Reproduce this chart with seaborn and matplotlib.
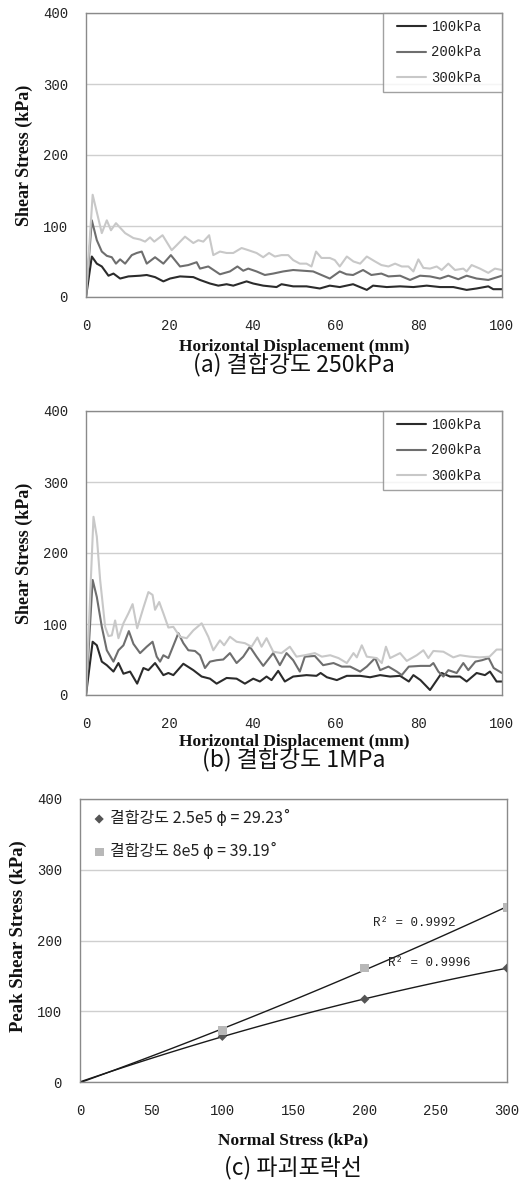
import numpy as np
import pandas as pd
import matplotlib
matplotlib.use("Agg")
import matplotlib.pyplot as plt
import seaborn as sns
from matplotlib.legend_handler import HandlerLine2D
from matplotlib.lines import Line2D

# ---------------- data ----------------
# (a) bond strength 250 kPa : shear stress vs horizontal displacement
a_x_100 = [0, 1.4, 2.6, 3.8, 5.4, 6.6, 8.2, 10.2, 13, 14.6, 16.6, 18.6, 20.2, 22.6, 25.8, 27.4, 29.8,
           31.8, 33.8, 35.4, 38.6, 40.2, 42.6, 45.8, 47, 49.8, 53, 56.2, 58.6, 61, 64.2, 67.5, 69,
           72.3, 75.5, 78.7, 81.9, 85.1, 88.3, 91.5, 93.9, 96.7, 97.9, 100]
a_y_100 = [0, 57, 47, 43, 30, 33, 26, 29, 30, 31, 28, 22, 26, 29, 28, 24, 19,
           16, 18, 16, 22, 19, 16, 14, 18, 15, 15, 12, 16, 14, 18, 10, 16,
           14, 15, 14, 16, 14, 14, 10, 12, 15, 11, 11]
a_x_200 = [0, 1.4, 2.6, 3.8, 5, 6.2, 7.2, 8.2, 9.4, 11, 12.2, 13.4, 14.6, 16.6, 18.6, 20.4, 22.6,
           24.6, 26.6, 27.4, 29.4, 32.2, 34.6, 36.4, 37.8, 39, 41, 43, 45, 47.4, 49.8, 52.2, 54.6,
           56.6, 58.6, 61, 62.6, 64.2, 66.6, 68.6, 71, 72.7, 75.5, 77.9, 80.3, 82.7, 85.1, 87.1,
           89.5, 91.5, 93.9, 96.7, 100]
a_y_200 = [0, 108, 80, 64, 58, 56, 47, 53, 47, 59, 62, 64, 47, 56, 47, 59, 43,
           45, 49, 40, 43, 32, 36, 43, 37, 40, 36, 31, 33, 36, 38, 37, 36,
           31, 26, 36, 32, 31, 38, 31, 33, 29, 30, 24, 30, 29, 26, 30,
           25, 30, 26, 24, 30]
a_x_300 = [0, 1.6, 3.8, 5, 6, 7.2, 9.4, 11.4, 13, 14.2, 15.4, 16.4, 18.4, 20.6, 21.8, 23.8, 25.8,
           27, 28.2, 29.6, 30.6, 32.2, 33.8, 35.4, 37.4, 39, 41, 42.6, 44, 45.4, 47, 48.6, 49.8,
           51.4, 53, 54.2, 55.3, 56.6, 58.6, 59.8, 61, 62.7, 64.3, 65.9, 67.5, 69.5, 71, 72.7,
           74.3, 75.9, 77.5, 78.7, 79.9, 81.1, 82.7, 84.3, 85.5, 87.1, 88.7, 90.7, 91.5, 92.7,
           94.7, 96.7, 98.3, 100]
a_y_300 = [0, 144, 90, 108, 94, 104, 90, 83, 81, 78, 84, 78, 87, 66, 73, 85, 76,
           80, 78, 87, 59, 64, 62, 62, 69, 66, 62, 56, 62, 57, 59, 59, 52,
           47, 47, 43, 64, 55, 55, 52, 43, 57, 50, 47, 57, 50, 45, 43,
           47, 43, 43, 36, 53, 41, 40, 43, 38, 47, 38, 40, 36, 45,
           40, 34, 40, 38]

# (b) bond strength 1 MPa
b_x_100 = [0, 1.6, 2.6, 3.8, 5, 6.6, 7.8, 9, 10.6, 12.3, 13.8, 15, 16.6, 18.6, 19.8, 21, 23.4,
           25.8, 27.8, 29.8, 31.4, 33.8, 36.2, 38.2, 40.2, 41.8, 43.4, 44.6, 46.2, 47.8, 49.8,
           53, 55.4, 56.4, 57.9, 60.3, 62.7, 65.9, 68.3, 70.7, 73.1, 75.5, 77.6, 78.7, 80.4,
           82.7, 85.5, 87.5, 89.9, 91.5, 93.9, 95.9, 97.1, 98.7, 100]
b_y_100 = [0, 75, 70, 47, 42, 33, 45, 30, 33, 16, 38, 35, 45, 28, 31, 28, 44,
           35, 26, 23, 16, 24, 23, 16, 23, 19, 26, 21, 34, 19, 26,
           28, 27, 31, 25, 21, 27, 27, 25, 28, 26, 27, 19, 28, 21,
           7, 31, 26, 26, 19, 31, 28, 33, 19, 19]
b_x_200 = [0, 1.6, 2.6, 3.8, 5, 6.6, 7.8, 9, 10.3, 11.4, 13, 14.6, 16, 17, 17.8, 18.6, 19.8,
           22.2, 23.4, 24.6, 26.2, 27.4, 28.6, 29.8, 31.4, 33, 34.6, 36.2, 37.8, 39.4, 41, 42.6,
           45, 46.6, 48.2, 49.8, 51.4, 52.6, 55, 57, 59.5, 61.5, 63.5, 65.9, 67.5, 69.5, 70.7,
           72.7, 74.7, 75.9, 77.6, 80.4, 82.7, 83.5, 84.7, 85.9, 87.1, 89.1, 90.7, 91.9, 93.6,
           95.2, 96.8, 98, 100]
b_y_200 = [0, 162, 138, 96, 63, 47, 63, 70, 90, 72, 59, 68, 75, 54, 47, 56, 52,
           87, 73, 63, 62, 56, 38, 47, 49, 50, 59, 45, 54, 68, 54, 41,
           59, 42, 59, 49, 33, 54, 55, 42, 45, 40, 40, 33, 40, 52, 35,
           40, 33, 28, 40, 41, 41, 45, 33, 26, 35, 31, 45, 35, 47,
           49, 52, 38, 31]
b_x_300 = [0, 1.8, 2.6, 3.4, 4.6, 5.4, 6.2, 7, 7.8, 9, 10.2, 11.2, 12.3, 13.8, 15, 16, 16.6,
           17.6, 18.6, 19.8, 21, 22.6, 24.2, 25.8, 27.8, 29.4, 30.6, 32.2, 33.2, 34.6, 36.2,
           38.2, 39.8, 41.2, 42.2, 43.4, 45, 47, 49, 50.6, 52.6, 55, 56.7, 58.7, 60.7, 62.7,
           64.3, 65.1, 66.3, 67.5, 69.9, 71.1, 72.1, 73.1, 75.5, 77.1, 79.5, 81.1, 82.3, 83.5,
           85.9, 88.3, 89.9, 92.3, 94.6, 97, 98.7, 100]
b_y_300 = [0, 251, 223, 162, 96, 83, 84, 105, 80, 101, 115, 128, 94, 123, 145, 141, 120,
           131, 115, 95, 96, 82, 80, 91, 101, 82, 63, 77, 70, 82, 75,
           73, 68, 81, 68, 80, 61, 59, 68, 54, 56, 59, 54, 56, 52, 45,
           59, 53, 70, 54, 52, 45, 68, 52, 59, 48, 56, 63, 52, 62,
           61, 53, 56, 54, 53, 54, 64, 64]

# (c) failure envelope: peak shear stress vs normal stress
normal_stress = [0, 100, 200, 300]
peak_250k = [0, 64.5, 117, 161]
peak_800k = [0, 72.5, 161, 247]

series_labels = ["100kPa", "200kPa", "300kPa"]
line_colors = ["#2b2b2b", "#6e6e6e", "#c8c8c8"]
legend_c = ["결합강도 2.5e5 ϕ = 29.23˚", "결합강도 8e5 ϕ = 39.19˚"]
r2_labels = ["R² = 0.9996", "R² = 0.9992"]
captions = ["(a) 결합강도 250kPa", "(b) 결합강도 1MPa", "(c) 파괴포락선"]

# ---------------- style ----------------
sns.set_theme(style="white")
plt.rcParams["font.family"] = ["Noto Sans CJK KR", "DejaVu Sans"]
plt.rcParams["axes.unicode_minus"] = False

W, H = 531, 1182
fig = plt.figure(figsize=(W / 100, H / 100), dpi=100)

MONO = ["Liberation Mono", "DejaVu Sans Mono"]
SERIF_B = ["Liberation Serif", "DejaVu Serif"]
TICK_FONT = dict(family=MONO, size=10, color="#222222")
CAPTION_FONT = dict(family=["Noto Sans CJK KR", "DejaVu Sans"], size=16.5, color="#111111")


def px_axes(left, top, right, bottom):
    return fig.add_axes([left / W, 1 - bottom / H, (right - left) / W, (bottom - top) / H])


def frame(ax, xticks, yticks):
    for sp in ax.spines.values():
        sp.set_color("#8a8a8a")
        sp.set_linewidth(1.0)
    ax.set_yticks(yticks)
    ax.set_xticks(xticks)
    ax.grid(axis="y", color="#cfcfcf", linewidth=1.0)
    ax.grid(axis="x", visible=False)
    ax.set_axisbelow(True)
    ax.tick_params(axis="both", length=0)
    ax.tick_params(axis="x", pad=16)
    ax.tick_params(axis="y", pad=13)
    for lab in ax.get_xticklabels() + ax.get_yticklabels():
        lab.set_fontfamily(TICK_FONT["family"])
        lab.set_fontsize(TICK_FONT["size"])
        lab.set_color(TICK_FONT["color"])


def displacement_panel(ax, xs, ys, xlabel_y):
    frames = []
    for lab, x, y in zip(series_labels, xs, ys):
        frames.append(pd.DataFrame({"disp": x, "stress": y, "normal": lab}))
    df = pd.concat(frames, ignore_index=True)
    sns.lineplot(data=df, x="disp", y="stress", hue="normal", hue_order=series_labels,
                 palette=line_colors, linewidth=1.5, sort=True, estimator=None, ax=ax)
    ax.set_xlim(0, 100)
    ax.set_ylim(0, 400)
    frame(ax, [0, 20, 40, 60, 80, 100], [0, 100, 200, 300, 400])
    ax.set_xlabel("Horizontal Displacement (mm)", family=SERIF_B, weight="bold", size=12.5,
                  color="#111111")
    ax.set_ylabel("Shear Stress (kPa)", family=SERIF_B, weight="bold", size=13, color="#111111")
    ax.xaxis.set_label_coords(0.5, xlabel_y)
    ax.yaxis.set_label_coords(-0.127, 0.5)
    handles, labels = ax.get_legend_handles_labels()
    leg = ax.legend(handles, labels, loc="upper right", mode="expand",
                    bbox_to_anchor=(0.714, 0.0, 0.286, 1.0), borderaxespad=0,
                    fancybox=False, frameon=True, edgecolor="#8a8a8a",
                    handlelength=2.65, handletextpad=0.36, labelspacing=0.85, borderpad=0.48,
                    handler_map={Line2D: HandlerLine2D(xpad=0.5)},
                    prop=dict(family=MONO, size=10))
    leg.get_frame().set_linewidth(1.0)
    for t in leg.get_texts():
        t.set_color("#222222")


# (a)
ax_a = px_axes(86, 13, 502, 297)
displacement_panel(ax_a, [a_x_100, a_x_200, a_x_300], [a_y_100, a_y_200, a_y_300], -0.148)
fig.text(0.5 * (86 + 502) / W, 1 - 365 / H, captions[0], ha="center", va="center", **CAPTION_FONT)

# (b)
ax_b = px_axes(86, 411, 502, 695)
displacement_panel(ax_b, [b_x_100, b_x_200, b_x_300], [b_y_100, b_y_200, b_y_300], -0.137)
fig.text(0.5 * (86 + 502) / W, 1 - 760 / H, captions[1], ha="center", va="center", **CAPTION_FONT)

# (c)
ax_c = px_axes(80, 799, 507, 1082)
env = pd.DataFrame({"normal": normal_stress, "p250": peak_250k, "p800": peak_800k})
sns.regplot(data=env, x="normal", y="p800", order=2, ci=None, scatter=False,
            line_kws=dict(color="#1a1a1a", linewidth=1.0), ax=ax_c)
sns.regplot(data=env, x="normal", y="p250", order=2, ci=None, scatter=False,
            line_kws=dict(color="#1a1a1a", linewidth=1.0), ax=ax_c)
pts = env[env["normal"] > 0]
sns.scatterplot(data=pts, x="normal", y="p250", marker="D", s=22, color="#555555",
                edgecolor="none", label=legend_c[0], ax=ax_c, zorder=3)
sns.scatterplot(data=pts, x="normal", y="p800", marker="s", s=40, color="#b8b8b8",
                edgecolor="none", label=legend_c[1], ax=ax_c, zorder=3)
ax_c.set_xlim(0, 300)
ax_c.set_ylim(0, 400)
frame(ax_c, [0, 50, 100, 150, 200, 250, 300], [0, 100, 200, 300, 400])
ax_c.set_xlabel("Normal Stress (kPa)", family=SERIF_B, weight="bold", size=12.5, color="#111111")
ax_c.set_ylabel("Peak Shear Stress (kPa)", family=SERIF_B, weight="bold", size=13.5,
                color="#111111")
ax_c.xaxis.set_label_coords(0.5, -0.177)
ax_c.yaxis.set_label_coords(-0.124, 0.516)
leg_c = ax_c.legend(loc="upper left", frameon=False, handletextpad=0.2, labelspacing=1.0,
                    borderaxespad=0.3, handlelength=1.0,
                    prop=dict(family=["Noto Sans CJK KR", "DejaVu Sans"], size=11.5))
for t in leg_c.get_texts():
    t.set_color("#222222")
ax_c.text(216.5, 168, r2_labels[0], fontsize=9, family=MONO, color="#222222",
          va="center", ha="left")
ax_c.text(206, 225, r2_labels[1], fontsize=9, family=MONO, color="#222222",
          va="center", ha="left")
fig.text(0.5 * (80 + 507) / W, 1 - 1168 / H, captions[2], ha="center", va="center", **CAPTION_FONT)

fig.savefig("out.png", dpi=100, facecolor="white")
